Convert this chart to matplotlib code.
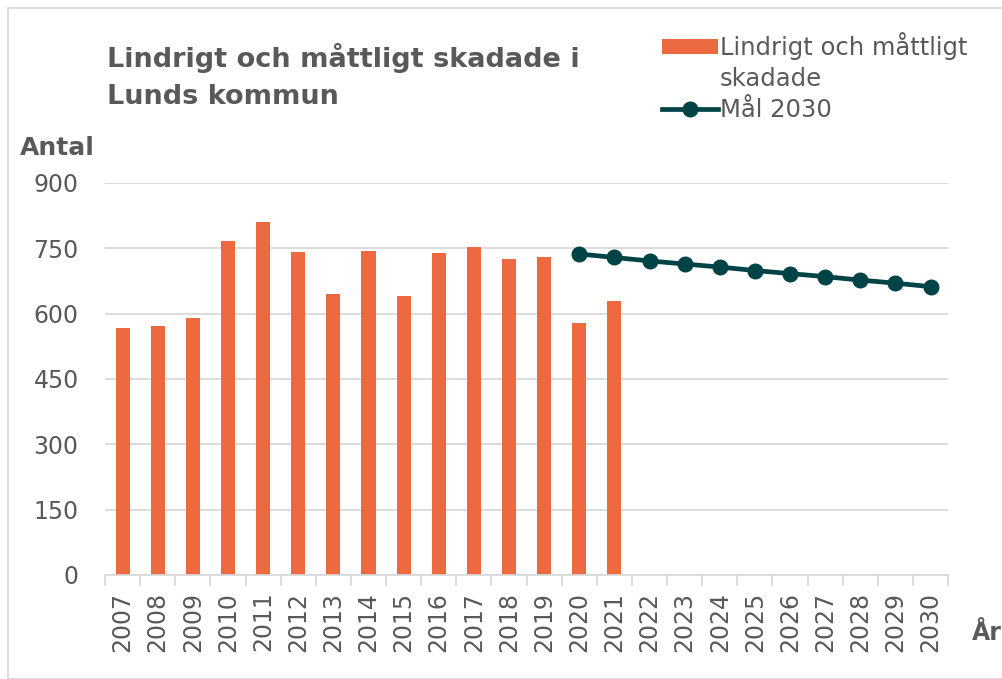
import numpy as np
import matplotlib
matplotlib.use("Agg")
import matplotlib.pyplot as plt
from matplotlib.patches import Rectangle
from matplotlib.legend_handler import HandlerPatch

# Data
years = [str(y) for y in range(2007, 2031)]
skadade = [567, 571, 591, 767, 810, 741, 646, 744, 641, 739, 753, 726, 731, 579, 629]
mal_years = [str(y) for y in range(2020, 2031)]
mal_2030 = [737, 729, 721, 714, 707, 699, 692, 685, 677, 670, 662]

bar_color = "#ED6A40"
line_color = "#004346"
text_color = "#595959"
grid_color = "#D9D9D9"

plt.rcParams["font.family"] = ["DejaVu Sans"]

fig = plt.figure(figsize=(10.03, 6.79), dpi=100)
ax = fig.add_axes([0.1047, 0.1532, 0.8406, 0.5773])

x = np.arange(len(years))
x_bar = x[:len(skadade)]
x_line = x[years.index(mal_years[0]):years.index(mal_years[0]) + len(mal_2030)]

bars = ax.bar(x_bar, skadade, width=0.4, color=bar_color, zorder=2)
line, = ax.plot(x_line, mal_2030, color=line_color, lw=3.4, marker="o",
                markersize=10.5, zorder=3, label="Mål 2030")

ax.set_xlim(-0.5, len(years) - 0.5)
ax.set_ylim(0, 900)
ax.set_yticks(np.arange(0, 901, 150))
ax.yaxis.grid(True, color=grid_color, lw=1.3, zorder=0)
ax.tick_params(axis="y", length=0, labelsize=17, labelcolor=text_color, pad=19)

ax.set_xticks(x)
ax.set_xticklabels(years, rotation=90, fontsize=17, color=text_color)
ax.set_xticks(np.arange(-0.5, len(years)), minor=True)
ax.tick_params(axis="x", which="major", length=0, pad=12)
ax.tick_params(axis="x", which="minor", length=8, color=grid_color, width=1.3)

for s in ["top", "right", "left"]:
    ax.spines[s].set_visible(False)
ax.spines["bottom"].set_color(grid_color)
ax.spines["bottom"].set_linewidth(1.3)

fig.text(0.107, 0.937, "Lindrigt och måttligt skadade i\nLunds kommun",
         fontsize=19.5, fontweight="bold", color=text_color, va="top",
         linespacing=1.55)
fig.text(0.02, 0.782, "Antal", fontsize=18, fontweight="bold",
         color=text_color, ha="left", va="center")
fig.text(0.969, 0.068, "År", fontsize=17, fontweight="bold",
         color=text_color, ha="left", va="center")


def shifted_patch(legend, orig_handle, xdescent, ydescent, width, height, fontsize):
    return Rectangle((-xdescent, -ydescent + fontsize * 0.65), width, height)


bar_handle = Rectangle((0, 0), 1, 1, facecolor=bar_color,
                       label="Lindrigt och måttligt\nskadade")
leg = fig.legend(handles=[bar_handle, line], loc="upper left",
                 bbox_to_anchor=(0.638, 0.985), frameon=False, fontsize=17.5,
                 handlelength=2.3, handleheight=0.6, handletextpad=0.1,
                 labelspacing=0.3, labelcolor=text_color,
                 handler_map={bar_handle: HandlerPatch(patch_func=shifted_patch)})
for t in leg.get_texts():
    t.set_linespacing(1.35)

fig.patches.append(Rectangle((0.008, 0.0), 0.992, 0.988, transform=fig.transFigure,
                             fill=False, edgecolor=grid_color, lw=1.3))

fig.savefig("out.png", dpi=100)
